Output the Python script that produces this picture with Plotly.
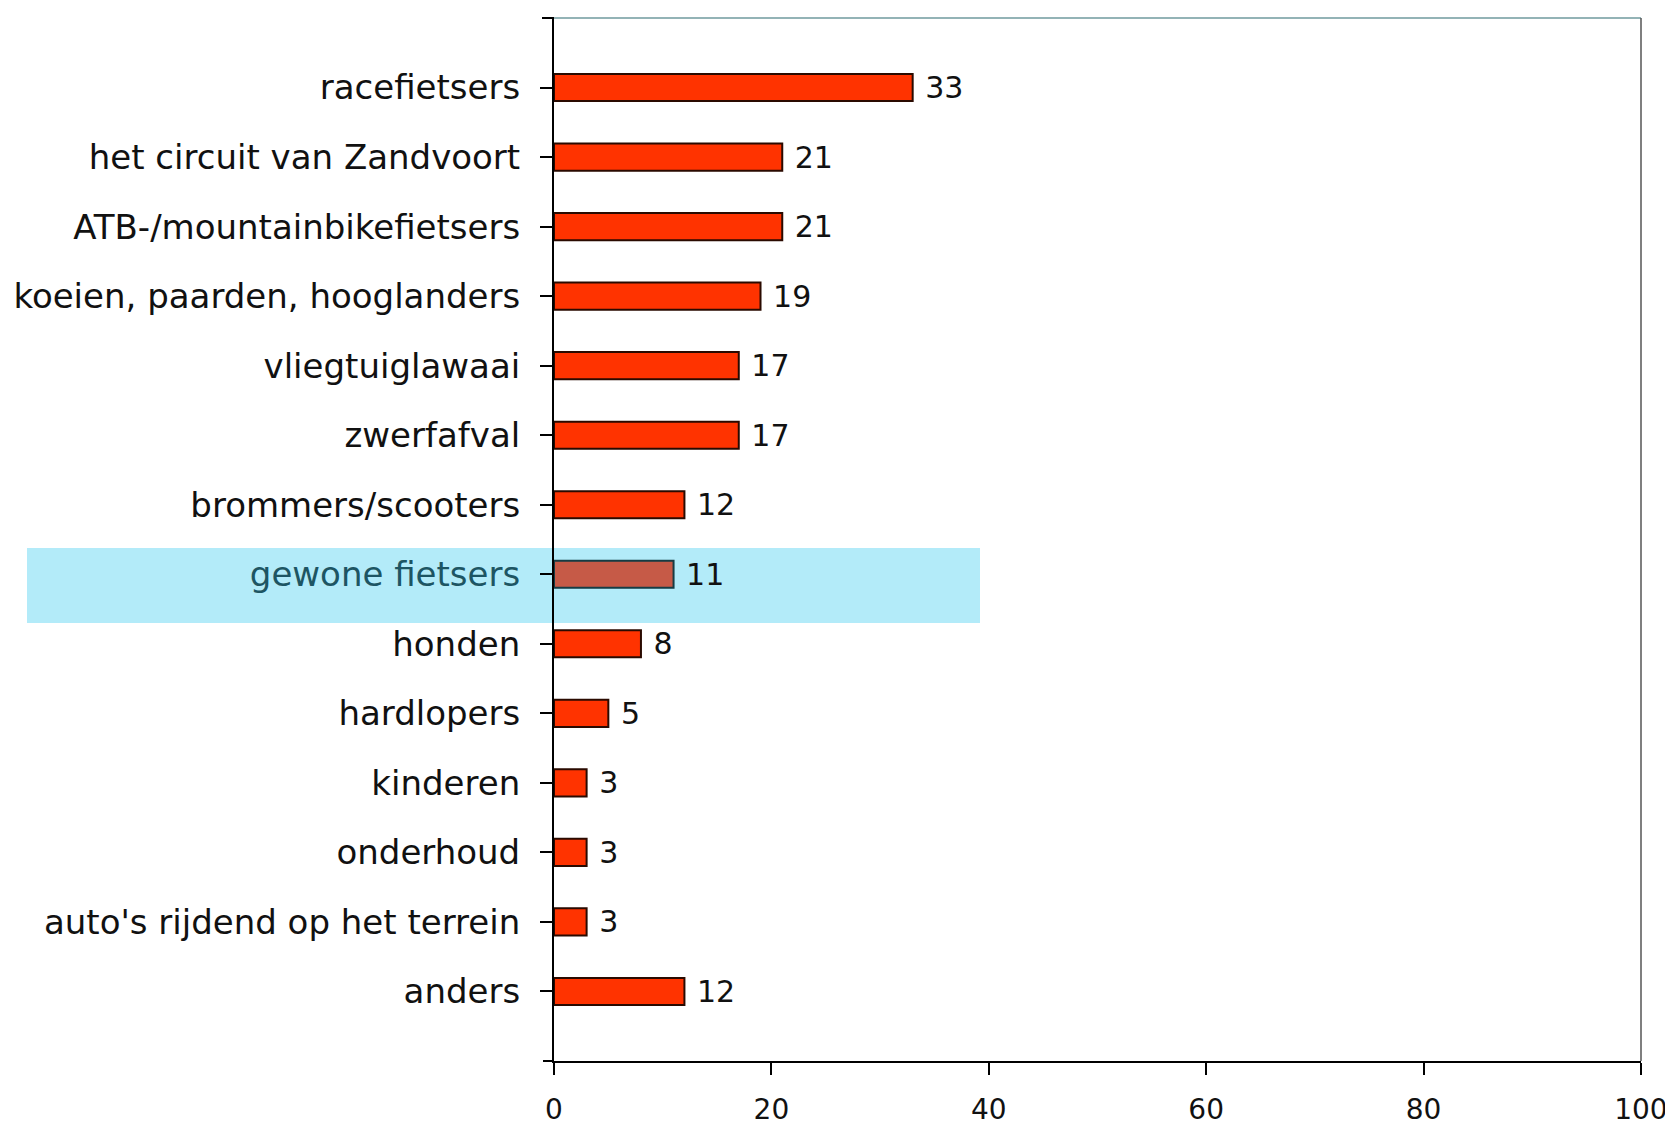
import plotly.graph_objects as go

categories = [
    "racefietsers", "het circuit van Zandvoort", "ATB-/mountainbikefietsers",
    "koeien, paarden, hooglanders", "vliegtuiglawaai", "zwerfafval",
    "brommers/scooters", "gewone fietsers", "honden", "hardlopers",
    "kinderen", "onderhoud", "auto's rijdend op het terrein", "anders",
]
values = [33, 21, 21, 19, 17, 17, 12, 11, 8, 5, 3, 3, 3, 12]
highlight = "gewone fietsers"
x_ticks = [0, 20, 40, 60, 80, 100]

W, H = 1673, 1131
# intended plot-area pixel box (as seen in the reference)
PL, PR, PT, PB = 553, 1640, 17, 1060
plot_w = PR - PL
plot_h = PB - PT
OFF = 7  # page offset compensation
L, T = PL - OFF, PT - OFF
R = W - PR + OFF
B = H - PB + OFF

bar_colors = ["#c65a47" if c == highlight else "#ff3300" for c in categories]
line_colors = ["#163c44" if c == highlight else "#2a0a00" for c in categories]
ticktext = [
    f"<span style='color:#1d5563'>{c}</span>" if c == highlight else c
    for c in categories
]

fig = go.Figure(go.Bar(
    x=values, y=list(range(len(categories))), orientation="h",
    marker=dict(color=bar_colors, line=dict(color=line_colors, width=2)),
    width=0.39,
    text=[f"\u00a0{v}" for v in values], textposition="outside",
    constraintext="none",
    textfont=dict(family="DejaVu Sans", size=30, color="#111111"),
    cliponaxis=False,
))


def px_to_paper_x(px):
    return (px - PL) / plot_w


def px_to_paper_y(py):
    return (PB - py) / plot_h


fig.add_shape(type="rect", xref="paper", yref="paper",
              x0=px_to_paper_x(26), x1=px_to_paper_x(979),
              y0=px_to_paper_y(622), y1=px_to_paper_y(547),
              fillcolor="#b3ebf9", line=dict(width=0), layer="below")
fig.add_shape(type="line", xref="paper", yref="paper", x0=0, x1=1, y0=1, y1=1,
              line=dict(color="#6f9a9e", width=1.5))
fig.add_shape(type="line", xref="paper", yref="paper", x0=1, x1=1, y0=0, y1=1,
              line=dict(color="#555555", width=1.5))
fig.add_shape(type="line", xref="paper", yref="paper",
              x0=px_to_paper_x(541), x1=0, y0=1, y1=1,
              line=dict(color="black", width=2))
fig.add_shape(type="line", xref="paper", yref="paper",
              x0=px_to_paper_x(542), x1=0, y0=0, y1=0,
              line=dict(color="black", width=2))

fig.update_layout(
    width=W, height=H,
    margin=dict(l=L, r=R, t=T, b=B, pad=0, autoexpand=False),
    paper_bgcolor="white", plot_bgcolor="rgba(0,0,0,0)",
    showlegend=False,
    font=dict(family="DejaVu Sans", color="#111111"),
    xaxis=dict(range=[0, 100.01], tickvals=x_ticks, ticktext=[str(t) for t in x_ticks],
               automargin=False,
               showgrid=False, zeroline=False, showline=True, linecolor="black",
               linewidth=2, ticks="outside", ticklen=12, tickwidth=1.5,
               tickcolor="black", tickfont=dict(size=28, family="DejaVu Sans"),
               ticklabelstandoff=10),
    yaxis=dict(range=[len(categories), -1], tickvals=list(range(len(categories))),
               ticktext=ticktext, showgrid=False, zeroline=False, showline=True,
               automargin=False,
               linecolor="black", linewidth=2, ticks="outside", ticklen=12,
               tickwidth=1.5, tickcolor="black",
               tickfont=dict(size=34, family="DejaVu Sans"),
               ticklabelstandoff=13),
)

fig.write_html("out.html")
